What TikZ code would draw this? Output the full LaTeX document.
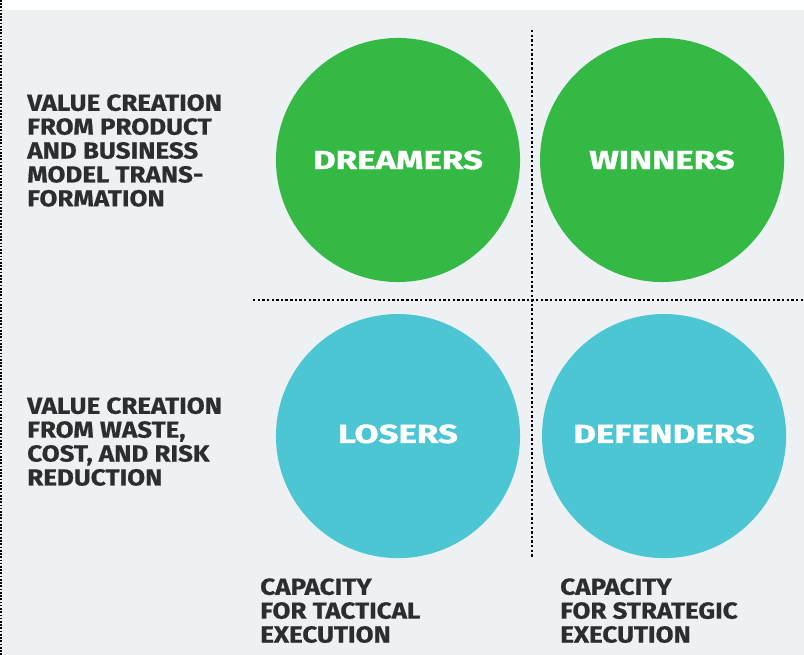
\documentclass[tikz,border=0pt]{standalone}
\usepackage{fontspec}
\setmainfont{Fira Sans}
\newfontfamily\axisfont{Fira Sans}[FakeStretch=1.12, FakeBold=0.6]
\newfontfamily\bubblefont{Fira Sans}[FakeStretch=1.34, FakeBold=1.2]
\usepackage{xcolor}
\usetikzlibrary{positioning}
\definecolor{dreamgreen}{RGB}{52,185,69}
\definecolor{lowcyan}{RGB}{75,198,210}
\definecolor{panelgray}{RGB}{238,241,243}
\definecolor{labeldark}{RGB}{45,45,45}
\tikzstyle{bubble} = [circle, minimum size=6.1cm, inner sep=0pt, text=white, font=\bubblefont\fontsize{18.5}{20}\selectfont\bfseries]
\tikzstyle{topbubble} = [bubble, fill=dreamgreen]
\tikzstyle{lowbubble} = [bubble, fill=lowcyan]
\tikzstyle{axislabel} = [anchor=north west, inner sep=0pt, align=left, text=labeldark, font=\axisfont\fontsize{16.5}{17}\selectfont\bfseries]
\tikzstyle{divider} = [line width=2pt, dash pattern=on 1.7pt off 1.6pt]

\begin{document}
\begin{tikzpicture}[x=0.025cm, y=-0.025cm, node distance=6.6cm]
		\useasboundingbox (0,0) rectangle (804,655);
		\fill[white] (0,0) rectangle (804,10);
		\fill[panelgray] (0,10) rectangle (804,655);
		\draw[divider, line width=1.3pt, dash pattern=on 1.2pt off 1.1pt] (1,0) -- (1,655);
		%四个圆
		\node (dreamers) [topbubble] at (398,160) {DREAMERS};
		\node (winners) [topbubble, right of=dreamers] {WINNERS};
		\node (losers) [lowbubble, below of=dreamers, yshift=-0.3cm] {\raisebox{0.12cm}{LOSERS}};
		\node (defenders) [lowbubble, right of=losers, xshift=0.05cm] {\raisebox{0.12cm}{DEFENDERS}};
		%分隔线
		\coordinate (vtop) at (532,30);
		\coordinate (vbot) at (532,558);
		\coordinate (hleft) at (253,300);
		\coordinate (hright) at (804,300);
		\draw[divider] (vtop) -- (vbot);
		\draw[divider] (hleft) -- (hright);
		%坐标轴文字
		\node (yhigh) [axislabel] at (27,94) {VALUE CREATION\\FROM PRODUCT\\AND BUSINESS\\MODEL TRANS-\\FORMATION};
		\node (ylow) [axislabel] at (27,397) {VALUE CREATION\\FROM WASTE,\\COST, AND RISK\\REDUCTION};
		\node (xlow) [axislabel] at (260,578) {CAPACITY\\FOR TACTICAL\\EXECUTION};
		\node (xhigh) [axislabel] at (560,578) {CAPACITY\\FOR STRATEGIC\\EXECUTION};
	\end{tikzpicture}
\end{document}
